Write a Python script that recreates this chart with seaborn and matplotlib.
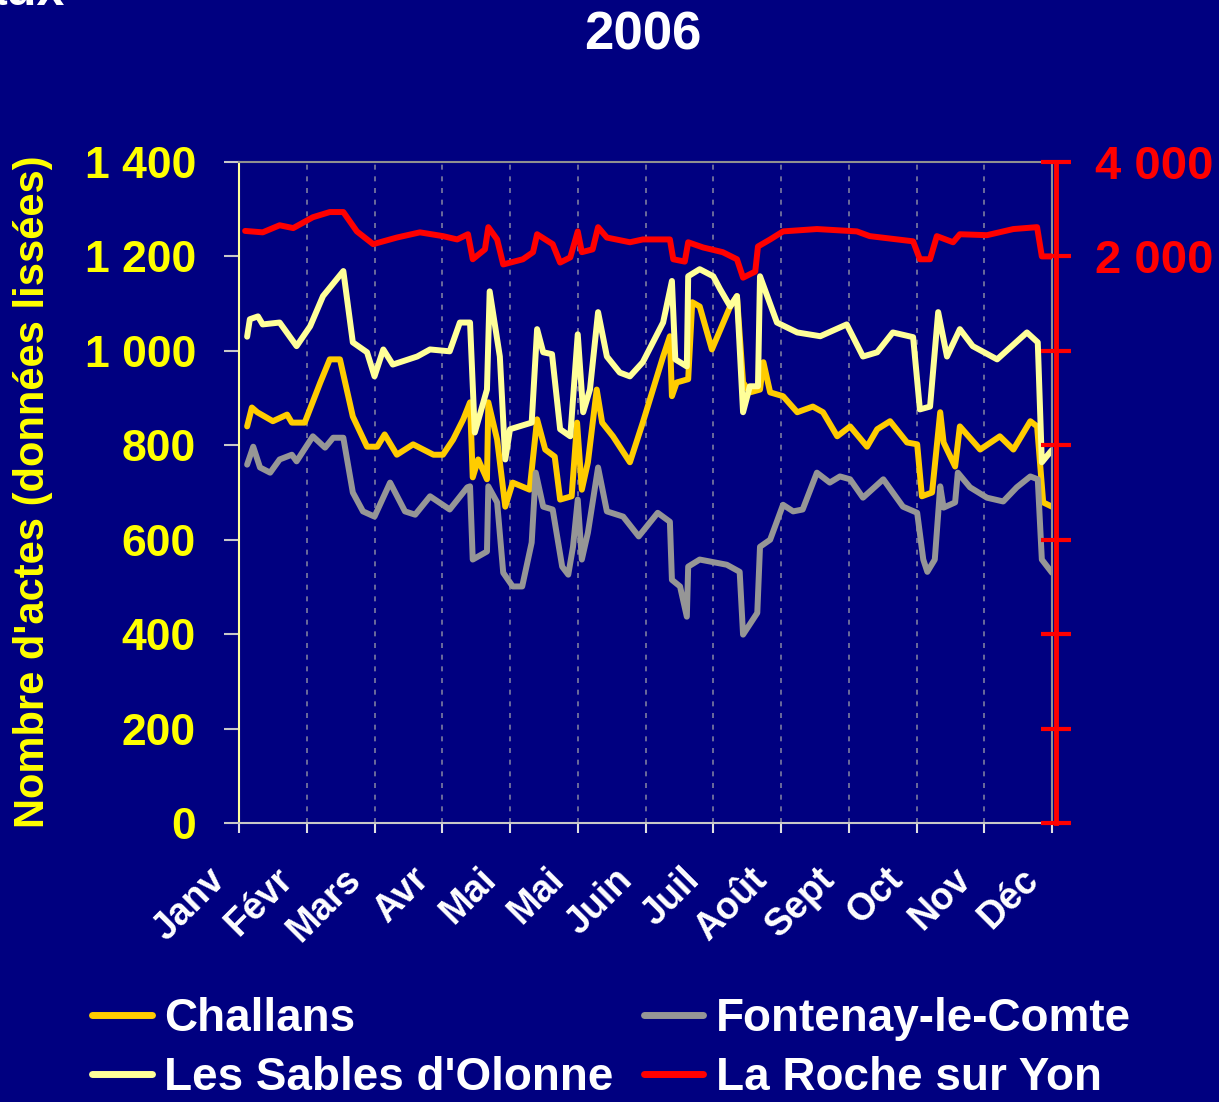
import matplotlib
matplotlib.use('Agg')
import matplotlib.pyplot as plt
import matplotlib.transforms as mtransforms
from matplotlib.lines import Line2D
from matplotlib.ticker import FuncFormatter, FixedLocator
import seaborn as sns
import numpy as np
import pandas as pd

# x positions are expressed in months since 1 January (0 = Janv tick, 12 = end of Déc)
month_labels = ['Janv', 'Févr', 'Mars', 'Avr', 'Mai', 'Mai', 'Juin', 'Juil',
                'Août', 'Sept', 'Oct', 'Nov', 'Déc']

challans_x = [0.12, 0.19, 0.27, 0.5, 0.71, 0.78, 0.97, 1.2, 1.34, 1.49, 1.68, 1.89, 2.04,
              2.15, 2.33, 2.57, 2.87, 3.01, 3.16, 3.31, 3.41, 3.45, 3.53, 3.66, 3.68, 3.81,
              3.93, 4.04, 4.29, 4.4, 4.52, 4.66, 4.74, 4.91, 4.99, 5.06, 5.15, 5.28, 5.36,
              5.52, 5.77, 5.96, 6.26, 6.36, 6.39, 6.46, 6.63, 6.69, 6.8, 6.98, 7.25, 7.35,
              7.44, 7.54, 7.69, 7.74, 7.84, 8.03, 8.24, 8.47, 8.62, 8.83, 9.02, 9.27, 9.42,
              9.61, 9.86, 10.01, 10.08, 10.23, 10.35, 10.4, 10.57, 10.64, 10.94, 11.23,
              11.43, 11.68, 11.78, 11.87, 12.0]
challans_y = [840, 880, 870, 851, 865, 848, 848, 933, 982, 982, 861, 797, 797,
              823, 780, 802, 780, 780, 812, 855, 891, 732, 770, 728, 891, 812,
              670, 721, 706, 855, 791, 776, 685, 692, 848, 706, 764, 918, 848,
              819, 764, 848, 988, 1031, 904, 933, 940, 1103, 1094, 1003, 1094, 1116,
              933, 912, 918, 976, 912, 904, 870, 882, 870, 819, 840, 797, 834,
              851, 806, 802, 692, 700, 870, 806, 755, 840, 791, 819,
              791, 851, 840, 679, 670]

fontenay_x = [0.12, 0.21, 0.31, 0.46, 0.6, 0.78, 0.85, 1.09, 1.27, 1.39, 1.54, 1.68, 1.83,
              2.0, 2.23, 2.45, 2.6, 2.82, 3.11, 3.37, 3.41, 3.45, 3.66, 3.68, 3.81, 3.9,
              4.04, 4.18, 4.32, 4.38, 4.49, 4.63, 4.77, 4.86, 4.93, 5.0, 5.06, 5.15, 5.3,
              5.43, 5.67, 5.9, 6.18, 6.36, 6.39, 6.51, 6.61, 6.63, 6.8, 7.2, 7.39, 7.44,
              7.65, 7.69, 7.84, 8.03, 8.18, 8.32, 8.53, 8.72, 8.87, 9.02, 9.21, 9.51, 9.8,
              10.01, 10.1, 10.16, 10.27, 10.35, 10.4, 10.57, 10.61, 10.79, 11.04, 11.28,
              11.48, 11.68, 11.79, 11.85, 12.0]
fontenay_y = [759, 797, 753, 742, 770, 780, 766, 819, 795, 816, 816, 700, 660,
              649, 721, 660, 653, 692, 664, 711, 713, 558, 575, 713, 679, 530,
              501, 501, 594, 742, 670, 664, 543, 526, 585, 685, 558, 615, 753,
              660, 649, 607, 657, 638, 515, 501, 437, 543, 558, 547, 532, 399,
              445, 585, 600, 674, 660, 664, 742, 721, 734, 728, 689, 728, 670,
              657, 558, 532, 558, 713, 668, 679, 742, 711, 689, 681,
              711, 734, 728, 558, 530]

sables_x = [0.12, 0.16, 0.28, 0.35, 0.6, 0.85, 1.05, 1.24, 1.54, 1.68, 1.89, 2.0, 2.13,
            2.27, 2.63, 2.82, 3.11, 3.26, 3.41, 3.48, 3.66, 3.7, 3.85, 3.93, 4.0, 4.32,
            4.4, 4.49, 4.62, 4.74, 4.89, 5.0, 5.08, 5.18, 5.3, 5.43, 5.62, 5.77, 5.96,
            6.26, 6.39, 6.44, 6.61, 6.63, 6.8, 7.0, 7.1, 7.25, 7.35, 7.44, 7.54, 7.66,
            7.69, 7.94, 8.24, 8.58, 8.97, 9.21, 9.42, 9.65, 9.95, 10.05, 10.2, 10.32,
            10.45, 10.64, 10.83, 11.19, 11.63, 11.79, 11.85, 11.97, 12.0]
sables_y = [1030, 1067, 1073, 1056, 1060, 1010, 1052, 1116, 1169, 1018, 997, 946, 1003,
            971, 988, 1003, 999, 1060, 1060, 827, 918, 1126, 988, 770, 834, 848,
            1046, 997, 993, 834, 819, 1035, 870, 918, 1082, 988, 954, 946, 976,
            1060, 1148, 982, 967, 1158, 1173, 1158, 1131, 1094, 1116, 870, 925, 925,
            1158, 1060, 1039, 1031, 1056, 988, 997, 1039, 1029, 876, 882, 1082,
            988, 1046, 1010, 982, 1039, 1018, 764, 785, 790]

roche_x = [0.09, 0.35, 0.6, 0.8, 1.09, 1.34, 1.54, 1.74, 1.98, 2.33, 2.67, 3.01, 3.22,
           3.38, 3.45, 3.63, 3.68, 3.81, 3.9, 4.19, 4.34, 4.4, 4.63, 4.74, 4.89, 5.0,
           5.06, 5.22, 5.3, 5.43, 5.77, 5.96, 6.36, 6.41, 6.58, 6.63, 6.85, 7.14, 7.35,
           7.44, 7.62, 7.66, 7.84, 8.03, 8.53, 9.12, 9.31, 9.95, 10.05, 10.2, 10.3,
           10.54, 10.64, 11.04, 11.43, 11.78, 11.85, 12.0]
roche_y = [2540, 2510, 2660, 2600, 2830, 2940, 2940, 2530, 2260, 2400, 2510, 2430, 2360,
           2470, 1940, 2150, 2620, 2360, 1830, 1940, 2090, 2470, 2260, 1870, 1980, 2530,
           2090, 2150, 2620, 2400, 2300, 2360, 2360, 1940, 1890, 2300, 2190, 2090, 1940,
           1550, 1680, 2210, 2360, 2530, 2580, 2530, 2430, 2320, 1940, 1940, 2430,
           2300, 2470, 2450, 2580, 2620, 2000, 2000]

left_ticks = [0, 200, 400, 600, 800, 1000, 1200, 1400]
right_ticks = [-10000, -8000, -6000, -4000, -2000, 0, 2000, 4000]

BG = '#000080'
C_CHALLANS = '#FFCC00'
C_FONTENAY = '#969696'
C_SABLES = '#FFFF99'
C_ROCHE = '#FF0000'
LW = 4.3

sns.set_theme(style='white')
plt.rcParams['font.family'] = ['Liberation Sans', 'DejaVu Sans']
plt.rcParams['font.weight'] = 'bold'


def fmt_space(v, pos=None):
    return f'{int(v):,}'.replace(',', ' ')


def fmt_right(v, pos=None):
    # only positive values are labelled on the secondary axis
    return fmt_space(v) if v > 0 else ''


fig = plt.figure(figsize=(12.19, 11.02), dpi=100, facecolor=BG)
ax = fig.add_axes([239 / 1219, 1 - 823 / 1102, (1052 - 239) / 1219, (823 - 162) / 1102])
ax.set_facecolor(BG)

series = [
    ('Challans', challans_x, challans_y, C_CHALLANS),
    ('Fontenay-le-Comte', fontenay_x, fontenay_y, C_FONTENAY),
    ("Les Sables d'Olonne", sables_x, sables_y, C_SABLES),
]
for name, xs, ys, col in series:
    df = pd.DataFrame({'mois': xs, 'actes': ys})
    sns.lineplot(data=df, x='mois', y='actes', ax=ax, color=col, linewidth=LW,
                 estimator=None, sort=False, legend=False)

ax.set_xlim(0, 12)
ax.set_ylim(0, 1400)
ax.xaxis.set_major_locator(FixedLocator(np.arange(len(month_labels))))
ax.set_xticklabels(month_labels)
ax.yaxis.set_major_locator(FixedLocator(left_ticks))
ax.yaxis.set_major_formatter(FuncFormatter(fmt_space))
ax.set_xlabel('')
ax.set_ylabel('')
ax.grid(axis='x', color='#7C7CA0', linestyle=(0, (3, 4)), linewidth=1.2)
ax.grid(axis='y', visible=False)

for side in ['top', 'right']:
    ax.spines[side].set_color('#909090')
    ax.spines[side].set_linewidth(1.5)
ax.spines['left'].set_color(C_SABLES)
ax.spines['left'].set_linewidth(1.5)
ax.spines['bottom'].set_color('#C8C8C8')
ax.spines['bottom'].set_linewidth(1.5)

ax.tick_params(axis='y', direction='out', length=11, width=1.5, color='#C8C8C8',
               labelcolor='#FFFF00', labelsize=32, pad=20, left=True)
ax.tick_params(axis='x', direction='out', length=7, width=1.5, color='#E0E0E0',
               labelcolor='white', labelsize=27, pad=6, bottom=True)
for lab in ax.get_xticklabels():
    lab.set_rotation(45)
    lab.set_ha('right')
    lab.set_va('center')
    lab.set_rotation_mode('anchor')
    lab.set_fontweight('bold')
    lab.set_transform(lab.get_transform() +
                      mtransforms.ScaledTranslation(-0.19, -0.33, fig.dpi_scale_trans))
for lab in ax.get_yticklabels():
    lab.set_fontweight('bold')

# secondary axis for La Roche sur Yon
ax2 = ax.twinx()
df_r = pd.DataFrame({'mois': roche_x, 'actes': roche_y})
sns.lineplot(data=df_r, x='mois', y='actes', ax=ax2, color=C_ROCHE, linewidth=LW,
             estimator=None, sort=False, legend=False)
ax2.set_ylim(-10000, 4000)
ax2.set_xlim(0, 12)
ax2.set_ylabel('')
ax2.yaxis.set_major_locator(FixedLocator(right_ticks))
ax2.yaxis.set_major_formatter(FuncFormatter(fmt_right))
ax2.spines['right'].set_color(C_ROCHE)
ax2.spines['right'].set_linewidth(3.5)
ax2.spines['right'].set_position(('outward', 3))
for side in ['top', 'left', 'bottom']:
    ax2.spines[side].set_visible(False)
ax2.tick_params(axis='y', direction='inout', length=22, width=3, color=C_ROCHE,
                labelcolor=C_ROCHE, labelsize=34, pad=17, right=True)
for lab in ax2.get_yticklabels():
    lab.set_fontweight('bold')

fig.text(643 / 1219, 1 - 35 / 1102, '2006', color='white', fontsize=38,
         fontweight='bold', ha='center', va='center')
# remnant of a title cropped off the top of the original slide
fig.text(65 / 1219, 1 - 5 / 1102, 'aux', color='white', fontsize=36,
         fontweight='bold', ha='right', va='baseline')
fig.text(33 / 1219, 1 - 492 / 1102, "Nombre d'actes (données lissées)", color='#FFFF00',
         fontsize=30, fontweight='bold', rotation=90, ha='center', va='center')

handles = [Line2D([], [], color=C_CHALLANS, lw=5),
           Line2D([], [], color=C_SABLES, lw=5),
           Line2D([], [], color=C_FONTENAY, lw=5),
           Line2D([], [], color=C_ROCHE, lw=5)]
labels = ['Challans', "Les Sables d'Olonne", 'Fontenay-le-Comte', 'La Roche sur Yon']
leg = fig.legend(handles, labels, ncol=2, loc='upper left',
                 bbox_to_anchor=(92 / 1219, 1 - 997 / 1102), frameon=False,
                 prop={'family': 'Liberation Sans', 'weight': 'bold', 'size': 33},
                 handlelength=1.3, handletextpad=0.28, columnspacing=0.65,
                 labelspacing=0.33, borderaxespad=0, borderpad=0)
for t in leg.get_texts():
    t.set_color('white')

fig.savefig('out.png', dpi=100, facecolor=BG)
